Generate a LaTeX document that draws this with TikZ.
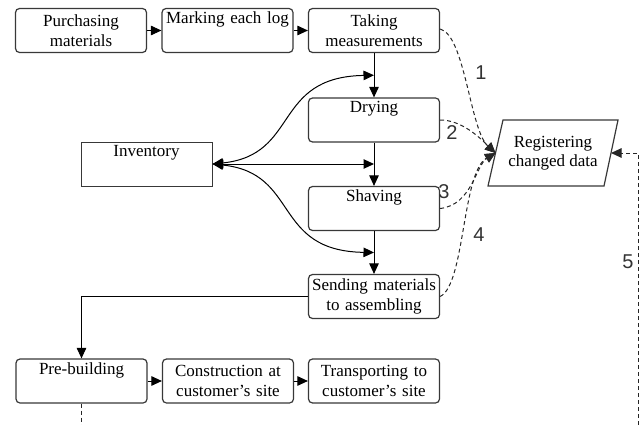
\documentclass[tikz,border=0pt]{standalone}
\usepackage{fontspec}
\setmainfont{Liberation Serif}
\newfontfamily\boxfont{Liberation Serif}
\newfontfamily\numfont{Liberation Sans}
\usetikzlibrary{arrows.meta,calc}
\tikzset{
  procbox/.style={draw=black!78, line width=1.2pt, rounded corners=4pt,
    minimum width=131pt, minimum height=44pt, text width=129pt, inner sep=0pt,
    align=center, font=\boxfont\fontsize{17}{19.5}\selectfont},
  invbox/.style={procbox, rounded corners=0pt, line width=1pt},
  arr/.style={line width=1pt, -{Triangle[length=10.5pt,width=9.5pt]}},
  biarr/.style={line width=1pt, {Triangle[length=10.5pt,width=9.5pt]}-{Triangle[length=10.5pt,width=9.5pt]}},
  dsh/.style={draw=black!85, line width=1pt, dash pattern=on 4pt off 3pt},
  dsharr/.style={dsh, -{Triangle[length=10.5pt,width=9.5pt]}},
  numlbl/.style={font=\numfont\fontsize{20}{20}\selectfont, text=black!80, inner sep=0pt},
}
\begin{document}
\begin{tikzpicture}[x=1pt,y=-1pt]
\useasboundingbox (0,0) rectangle (642,425);
% top row
\node[procbox] (purch) at (81,30.5) {Purchasing\\materials};
\node[procbox] (mark) at (227.5,30.5) {Marking each log\\\strut};
\node[procbox] (take) at (374,30.5) {Taking\\measurements};
% column
\node[procbox] (dry) at (374,120) {Drying\\\strut};
\node[procbox] (shav) at (374,208.5) {Shaving\\\strut};
\node[procbox] (send) at (374,296.5) {Sending materials\\to assembling};
\node[invbox] (inv) at (146.5,164) {Inventory\\\strut};
% bottom row
\node[procbox] (pre) at (81.5,381) {Pre-building\\\strut};
\node[procbox] (cons) at (228,381) {Construction at\\customer’s site};
\node[procbox] (trans) at (374,381) {Transporting to\\customer’s site};
% registering
\node[minimum width=116pt, minimum height=66pt, inner sep=0pt, align=center,
      font=\boxfont\fontsize{17}{19.5}\selectfont] (reg) at (553,153) {Registering\\changed data};
\draw[draw=black!78, line width=1.2pt] ($(reg)+(-50,-33)$) -- ($(reg)+(65,-33)$) -- ($(reg)+(51,33)$) -- ($(reg)+(-65,33)$) -- cycle;
\coordinate (regL) at ($(reg)+(-57.5,0)$);
\coordinate (regR) at ($(reg)+(58,0)$);
% main flow
\draw[arr] (purch.east) -- (mark.west);
\draw[arr] (mark.east) -- (take.west);
\draw[arr] (take.south) -- (dry.north);
\draw[arr] (dry.south) -- (shav.north);
\draw[arr] (shav.south) -- (send.north);
\draw[arr] (send.west) -| (pre.north);
\draw[arr] (pre.east) -- (cons.west);
\draw[arr] (cons.east) -- (trans.west);
% inventory links
\coordinate (j1) at ($(take.south)!0.5!(dry.north)$);
\coordinate (j2) at ($(dry.south)!0.5!(shav.north)$);
\coordinate (j3) at ($(shav.south)!0.5!(send.north)$);
\draw[biarr] (inv.east) .. controls (300,155) and (272,77) .. (j1);
\draw[biarr] (inv.east) -- (inv.east -| j2);
\draw[biarr] (inv.east) .. controls (300,173) and (272,251) .. (j3);
% dashed data links
\draw[dsharr] ([yshift=1.5pt]take.east) .. controls (465,35) and (470,130) .. (regL);
\draw[dsharr] (dry.east) .. controls (462,120) and (480,138) .. (regL);
\draw[dsharr] (shav.east) .. controls (472,205) and (476,165) .. (regL);
\draw[dsharr] (send.east) .. controls (465,285) and (462,172) .. (regL);
\coordinate (d5) at (638,425);
\draw[dsharr] (d5) |- (regR);
\coordinate (d0) at (81.5,425);
\draw[dsh] (pre.south) -- (d0);
% labels
\node[numlbl] (l1) at (481,73) {1};
\node[numlbl] (l2) at (452,133) {2};
\node[numlbl] (l3) at (444,192) {3};
\node[numlbl] (l4) at (479,235) {4};
\node[numlbl] (l5) at (628,262) {5};
\end{tikzpicture}
\end{document}
